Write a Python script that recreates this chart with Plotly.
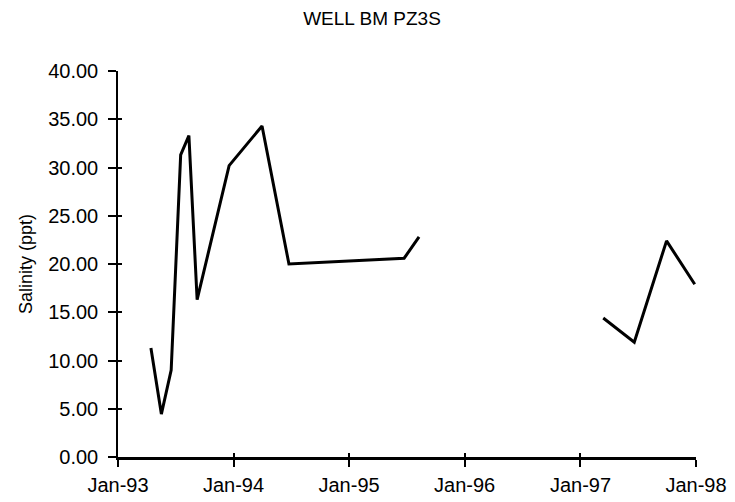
import plotly.graph_objects as go

dates = ["1993-04-15", "1993-05-18", "1993-06-18", "1993-07-18", "1993-08-13",
         "1993-09-08", "1993-12-18", "1994-04-01", "1994-06-25",
         "1995-06-24", "1995-08-10", None,
         "1997-03-14", "1997-06-20", "1997-09-30", "1997-12-28"]
salinity = [11.3, 4.45, 9.0, 31.3, 33.3, 16.3, 30.2, 34.3, 20.0,
            20.6, 22.8, None, 14.4, 11.9, 22.4, 17.9]

x_range = ["1993-01-01", "1998-01-01"]
y_range = [0, 40]

x_vals = [d if d is not None else "1996-06-01" for d in dates]

# page body has an 8px default margin, so the figure is shrunk by that offset
W, H = 727, 494

fig = go.Figure()
fig.add_trace(go.Scatter(x=x_vals, y=salinity, mode="lines",
                         line=dict(color="black", width=3),
                         connectgaps=False, showlegend=False, hoverinfo="skip"))
# invisible trace on overlay axes (for inward tick marks)
fig.add_trace(go.Scatter(x=[x_range[0]], y=[None], xaxis="x2", yaxis="y2",
                         mode="lines", showlegend=False, hoverinfo="skip"))

font = dict(family="Liberation Sans, Arial, sans-serif", color="black")
fig.update_layout(
    width=W, height=H,
    margin=dict(l=110, r=39, t=63, b=45),
    paper_bgcolor="white", plot_bgcolor="white",
    showlegend=False,
    title=dict(text="WELL BM PZ3S", x=364 / W, xanchor="center", xref="container",
               y=1 - 4 / H, yanchor="top", yref="container", pad=dict(t=0),
               font=dict(size=19, **font)),
    xaxis=dict(range=x_range, tickformat="%b-%y",
               tick0="1993-01-01", dtick="M12", automargin=False,
               showgrid=False, zeroline=False, showline=True, linecolor="black", linewidth=2.5,
               ticks="outside", ticklen=7, tickcolor="black", tickwidth=1.5,
               ticklabelstandoff=1,
               tickfont=dict(size=20, **font)),
    yaxis=dict(range=y_range, dtick=5, tickformat=".2f", automargin=False,
               showgrid=False, zeroline=False, showline=True, linecolor="black", linewidth=1.5,
               ticks="outside", ticklen=8, tickcolor="black", tickwidth=1.5,
               ticklabelstandoff=6,
               tickfont=dict(size=20, **font),
               title=dict(text="Salinity (ppt)", font=dict(size=18, **font), standoff=11)),
    xaxis2=dict(range=x_range, overlaying="x", tick0="1993-01-01", dtick="M12",
                showgrid=False, zeroline=False, showline=False, showticklabels=False,
                ticks="inside", ticklen=4, tickcolor="black", tickwidth=1.5),
    yaxis2=dict(range=y_range, overlaying="y", side="left", dtick=5,
                showgrid=False, zeroline=False, showline=False, showticklabels=False,
                ticks="inside", ticklen=4, tickcolor="black", tickwidth=1.5),
)

fig.write_html("out.html")
